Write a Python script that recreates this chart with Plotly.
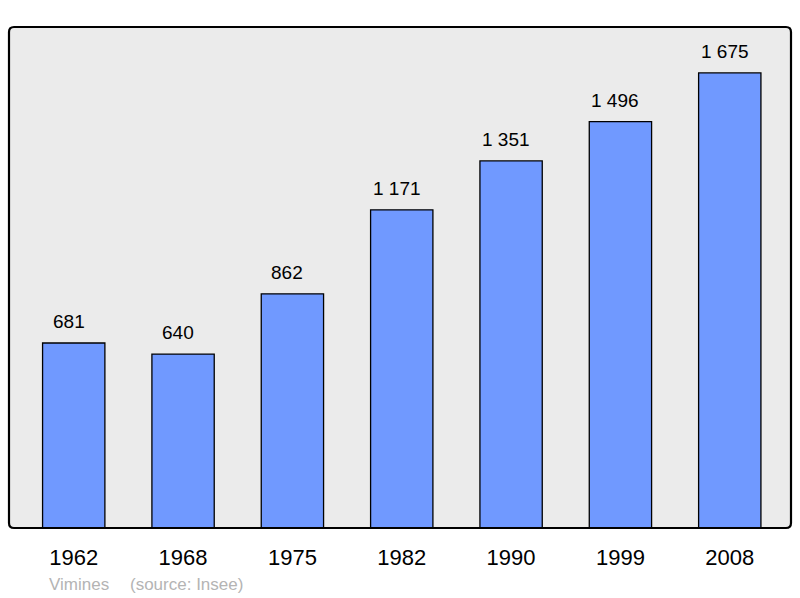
import plotly.graph_objects as go

years = ["1962", "1968", "1975", "1982", "1990", "1999", "2008"]
population = [681, 640, 862, 1171, 1351, 1496, 1675]
commune = "Vimines"
source = "(source: Insee)"

def fmt(v):
    return f"{v:,}".replace(",", " ")

FONT = "Liberation Sans, Arial, sans-serif"

fig = go.Figure()
fig.add_trace(go.Bar(
    x=list(range(len(years))), y=population,
    marker=dict(color="#7099ff", line=dict(color="#000000", width=1.3)),
    width=0.57,
    hoverinfo="skip",
))

for i, v in enumerate(population):
    fig.add_annotation(x=i, y=v, xref="x", yref="y", text=fmt(v), showarrow=False,
                       yanchor="bottom", yshift=9, xshift=-5,
                       font=dict(family=FONT, size=19, color="#000000"))

# rounded frame
W, H = 782, 501
rx, ry = 5 / W, 5 / H
path = (f"M {rx},0 L {1-rx},0 Q 1,0 1,{ry} L 1,{1-ry} Q 1,1 {1-rx},1 "
        f"L {rx},1 Q 0,1 0,{1-ry} L 0,{ry} Q 0,0 {rx},0 Z")
fig.add_shape(type="path", xref="paper", yref="paper", path=path,
              line=dict(color="#000000", width=2.2), layer="above")

fig.add_annotation(xref="paper", yref="paper", x=(47 - 9) / W, y=-56 / H,
                   xanchor="left", yanchor="middle", showarrow=False,
                   text=commune, font=dict(family=FONT, size=17, color="#b4b4b4"))
fig.add_annotation(xref="paper", yref="paper", x=(128 - 9) / W, y=-56 / H,
                   xanchor="left", yanchor="middle", showarrow=False,
                   text=source, font=dict(family=FONT, size=17, color="#b4b4b4"))

fig.update_layout(
    width=800, height=598,
    margin=dict(l=9, r=9, t=27, b=70),
    paper_bgcolor="#ffffff",
    plot_bgcolor="#ebebeb",
    showlegend=False,
    xaxis=dict(range=[-0.592, 6.56], showgrid=False, zeroline=False,
               tickmode="array", tickvals=list(range(len(years))), ticktext=years,
               ticks="outside", ticklen=10, tickcolor="rgba(0,0,0,0)",
               tickfont=dict(family=FONT, size=22, color="#000000"),
               fixedrange=True),
    yaxis=dict(range=[0, 1844], showgrid=False, zeroline=False, showticklabels=False,
               fixedrange=True),
)

fig.write_html("out.html", config={"displayModeBar": False},
               post_script="document.body.style.margin='0';document.body.style.overflow='hidden';")
